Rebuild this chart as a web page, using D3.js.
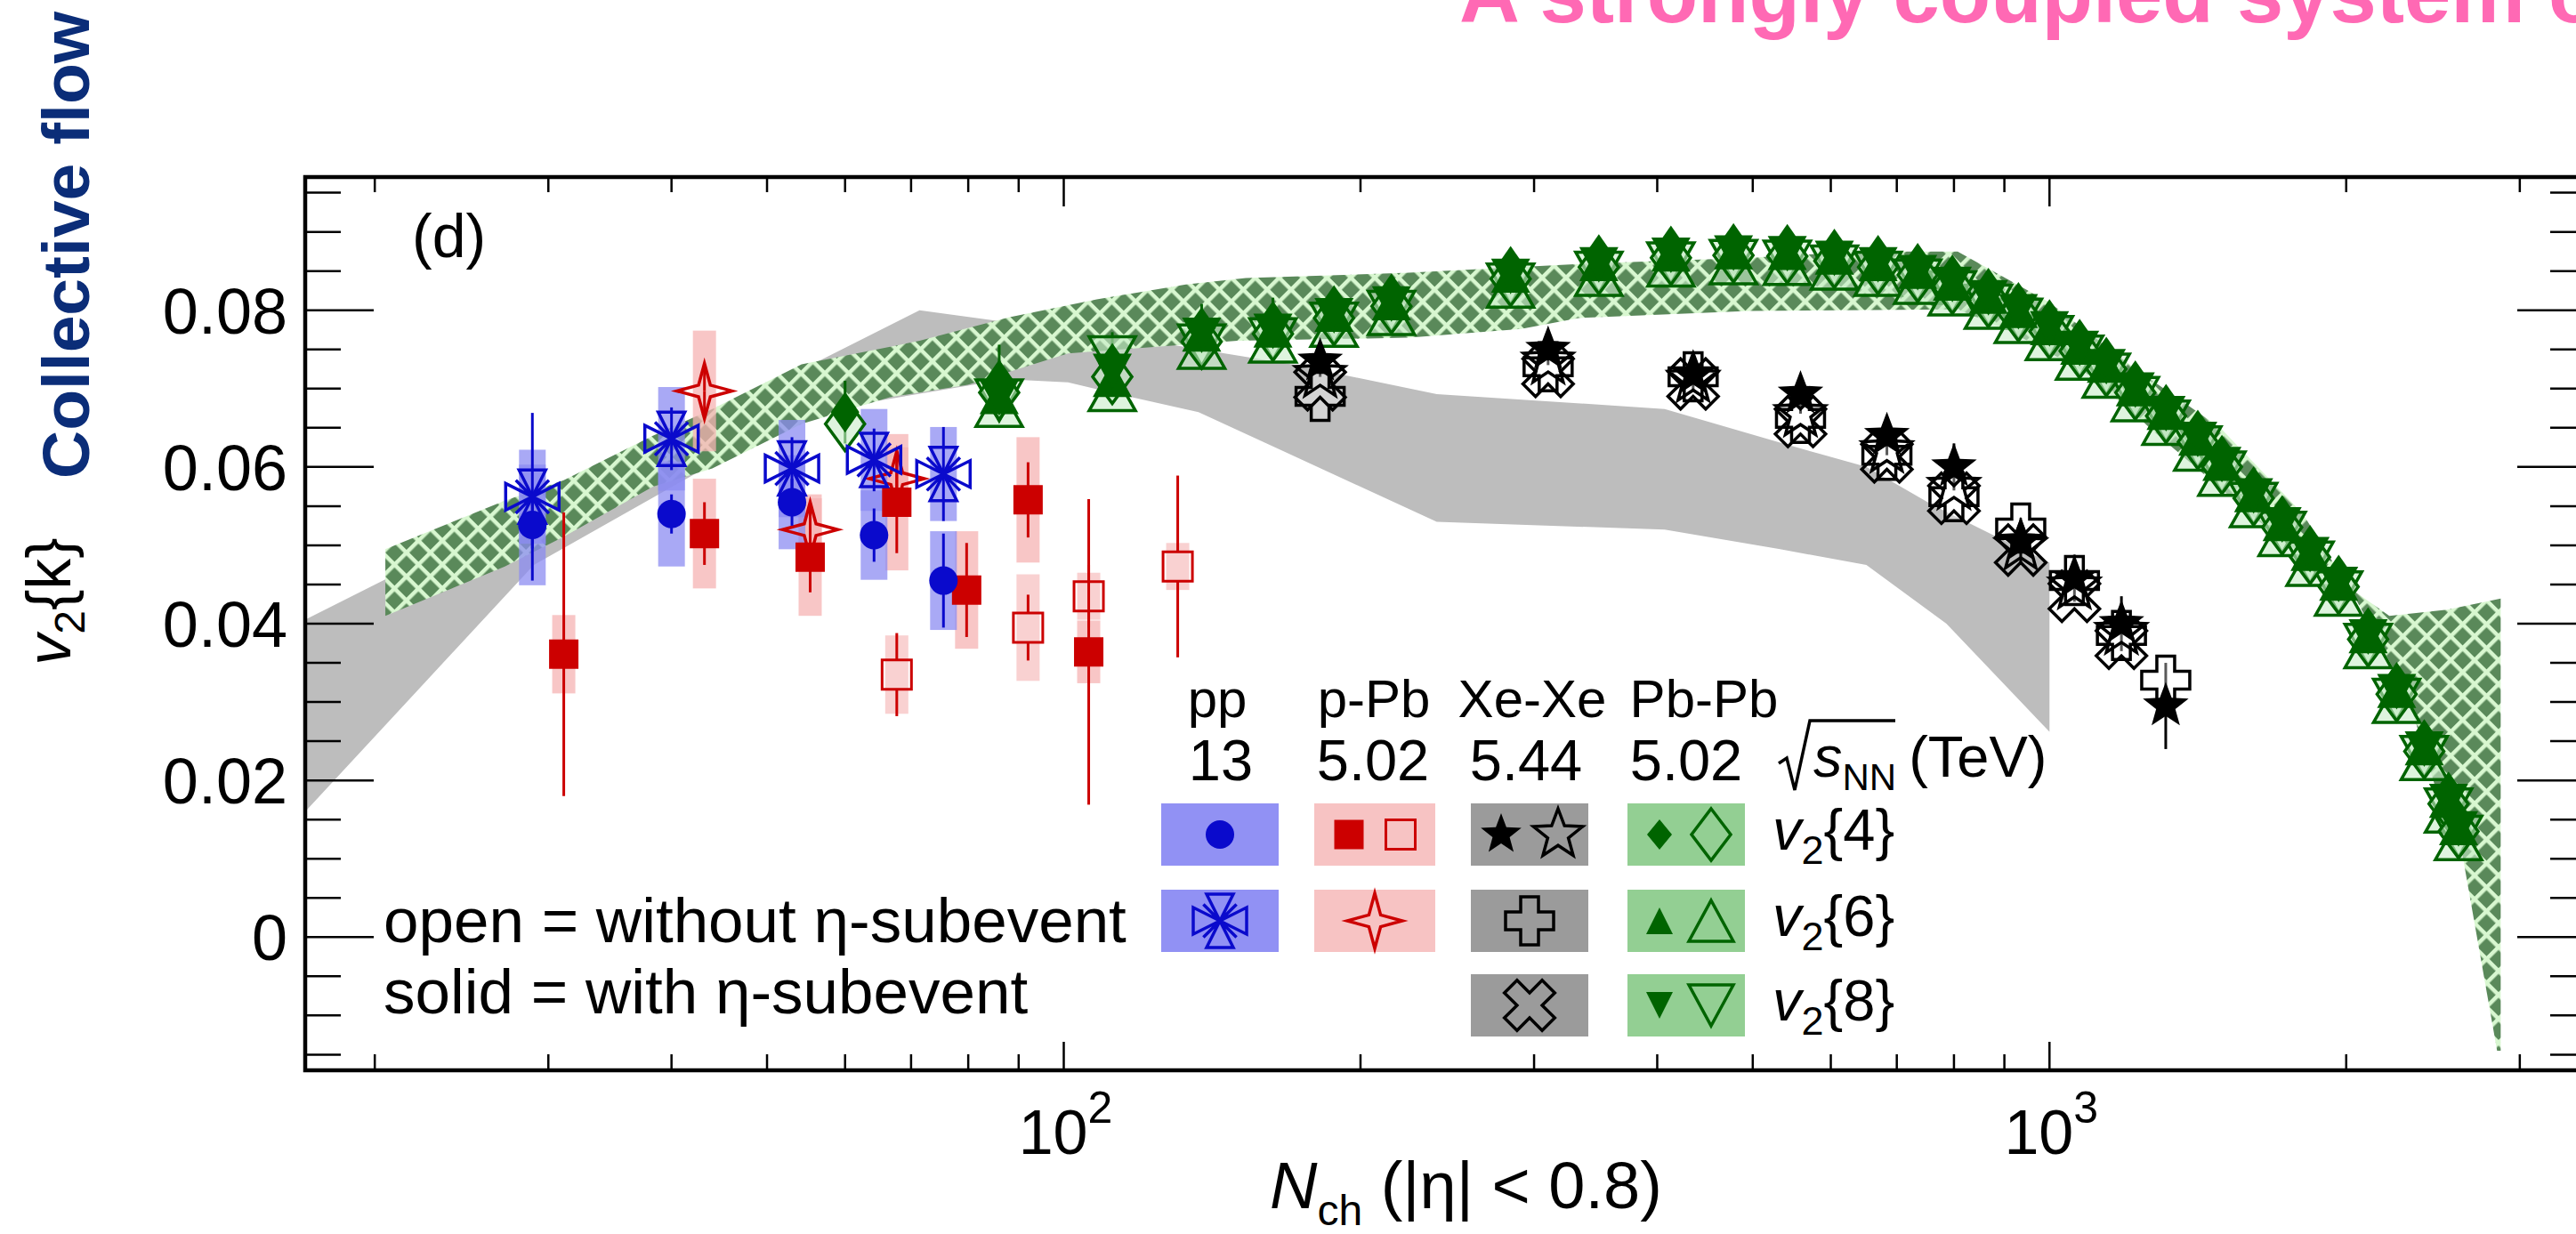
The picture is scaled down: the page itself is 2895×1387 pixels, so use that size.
<!DOCTYPE html>
<html>
<head>
<meta charset="utf-8">
<script src="https://cdn.jsdelivr.net/npm/d3@7"></script>
<style>
  html, body { margin: 0; padding: 0; background: #fff; }
  svg { display: block; font-family: 'Liberation Sans', Arial, Helvetica, sans-serif; }
</style>
</head>
<body>
<svg id="chart" width="2895" height="1387"></svg>
<script>
// axis ranges and ticks
const xDomain = [17, 3500]
const yDomain = [-0.017, 0.097]
const yMajor = [0, 0.02, 0.04, 0.06, 0.08]
const yLabels = ['0', '0.02', '0.04', '0.06', '0.08']
const xMajor = [100, 1000]
const xMajorSup = ['2', '3']
const xMinor = [20, 30, 40, 50, 60, 70, 80, 90, 200, 300, 400, 500, 600, 700, 800, 900, 2000, 3000]

// pp 13 TeV
const ppN = [28.9, 40.0, 53.0, 64.2, 75.5]
const ppV4 = [0.0526, 0.0540, 0.0555, 0.0513, 0.0455]
const ppV4Stat = [0.0030, 0.0025, 0.0030, 0.0034, 0.0060]
const ppV4Syst = [0.0077, 0.0067, 0.0060, 0.0057, 0.0063]
const ppV6 = [0.0562, 0.0636, 0.0598, 0.0609, 0.0591]
const ppV6Stat = [0.0107, 0.0040, 0.0040, 0.0040, 0.0060]
const ppV6Syst = [0.0060, 0.0066, 0.0062, 0.0065, 0.0060]

// p-Pb 5.02 TeV
const pPbN = [31.1, 43.2, 55.3, 67.7, 79.7, 92.0, 106]
const pPbV4 = [0.0361, 0.0515, 0.0485, 0.0555, 0.0443, 0.0558, 0.0364]
const pPbV4Stat = [0.0181, 0.0040, 0.0045, 0.0065, 0.0060, 0.0048, 0.0195]
const pPbV4Syst = [0.0050, 0.0070, 0.0075, 0.0087, 0.0075, 0.0080, 0.0040]
const pPbOpenN = [67.7, 92.0, 106, 130.5]
const pPbV4Open = [0.0335, 0.0395, 0.0435, 0.0473]
const pPbV4OpenStat = [0.0053, 0.0042, 0.0040, 0.0116]
const pPbV4OpenSyst = [0.0050, 0.0068, 0.0030, 0.0030]
const pPbV6N = [43.2, 55.3, 67.7]
const pPbV6 = [0.0697, 0.0520, 0.0585]
const pPbV6Stat = [0.0030, 0.0030, 0.0030]
const pPbV6Syst = [0.0077, 0.0045, 0.0040]

// Xe-Xe 5.44 TeV
const xeN = [182, 310, 435, 559, 684, 800, 935, 1060, 1183, 1312]
const xeV4 = [0.0735, 0.0750, 0.0718, 0.0693, 0.0640, 0.0600, 0.0505, 0.0458, 0.0400, 0.0295]
const xeV4Stat = [0.0020, 0.0020, 0.0020, 0.0025, 0.0025, 0.0030, 0.0030, 0.0030, 0.0035, 0.0055]
const xeV4Open = [0.0718, 0.0735, 0.0712, 0.0668, 0.0622, 0.0575, 0.0498, 0.0448, 0.0390, null]
const xeV6 = [0.0690, 0.0728, 0.0715, 0.0662, 0.0615, 0.0562, 0.0522, 0.0455, 0.0385, 0.0328]
const xeV8 = [0.0705, 0.0722, 0.0706, 0.0658, 0.0613, 0.0560, 0.0494, 0.0435, 0.0375, null]

// Pb-Pb 5.02 TeV
const pbN = [60, 86, 112, 138, 163, 188, 215, 284, 349, 413, 478, 542, 605, 670, 735, 797, 867, 930, 1000, 1073, 1142, 1222, 1313, 1414, 1496, 1611, 1722, 1838, 1965, 2105, 2250, 2400, 2540, 2600]
const pbV4 = [0.0670, 0.0711, 0.0732, 0.0778, 0.0786, 0.0806, 0.0821, 0.0856, 0.0871, 0.0882, 0.0885, 0.0884, 0.0878, 0.0870, 0.0860, 0.0845, 0.0828, 0.0810, 0.0788, 0.0763, 0.0740, 0.0710, 0.0680, 0.0647, 0.0615, 0.0575, 0.0538, 0.0500, 0.0462, 0.0395, 0.0325, 0.0252, 0.0185, 0.0150]
const pbV4Stat = [0.0040, 0.0045, 0.0040, 0.0030, 0.0030, 0.0020, 0.0020, 0.0015, 0.0010, 0.0010, 0.0010, 0.0010, 0.0010, 0.0010, 0.0010, 0.0010, 0.0010, 0.0010, 0.0010, 0.0010, 0.0010, 0.0010, 0.0010, 0.0010, 0.0010, 0.0010, 0.0010, 0.0010, 0.0010, 0.0010, 0.0010, 0.0010, 0.0015, 0.0015]
const pbV4Open = [0.0655, 0.0695, 0.0715, 0.0760, 0.0770, 0.0790, 0.0805, 0.0840, 0.0855, 0.0867, 0.0870, 0.0869, 0.0863, 0.0855, 0.0845, 0.0830, 0.0813, 0.0795, 0.0773, 0.0748, 0.0725, 0.0695, 0.0665, 0.0632, 0.0600, 0.0560, 0.0523, 0.0485, 0.0447, 0.0380, 0.0310, 0.0237, 0.0170, 0.0135]
const pbV6 = [null, 0.0690, 0.0712, 0.0770, 0.0775, 0.0795, 0.0810, 0.0845, 0.0860, 0.0872, 0.0875, 0.0874, 0.0868, 0.0860, 0.0850, 0.0835, 0.0818, 0.0800, 0.0778, 0.0753, 0.0730, 0.0700, 0.0670, 0.0637, 0.0605, 0.0565, 0.0528, 0.0490, 0.0452, 0.0385, 0.0315, 0.0242, 0.0175, 0.0140]
const pbV6Open = [null, 0.0678, 0.0698, 0.0752, 0.0760, 0.0780, 0.0795, 0.0830, 0.0845, 0.0857, 0.0860, 0.0859, 0.0853, 0.0845, 0.0835, 0.0820, 0.0803, 0.0785, 0.0763, 0.0738, 0.0715, 0.0685, 0.0655, 0.0622, 0.0590, 0.0550, 0.0513, 0.0475, 0.0437, 0.0370, 0.0300, 0.0227, 0.0160, 0.0125]
const pbV8 = [null, 0.0688, 0.0722, 0.0768, 0.0773, 0.0793, 0.0808, 0.0843, 0.0858, 0.0870, 0.0873, 0.0872, 0.0866, 0.0858, 0.0848, 0.0833, 0.0816, 0.0798, 0.0776, 0.0751, 0.0728, 0.0698, 0.0668, 0.0635, 0.0603, 0.0563, 0.0526, 0.0488, 0.0450, 0.0383, 0.0313, 0.0240, 0.0173, 0.0138]
const pbV8Open = [null, 0.0685, 0.0740, 0.0755, 0.0763, 0.0783, 0.0798, 0.0833, 0.0848, 0.0860, 0.0863, 0.0862, 0.0856, 0.0848, 0.0838, 0.0823, 0.0806, 0.0788, 0.0766, 0.0741, 0.0718, 0.0688, 0.0658, 0.0625, 0.0593, 0.0553, 0.0516, 0.0478, 0.0440, 0.0373, 0.0303, 0.0230, 0.0163, 0.0128]

// grey band
const greyUpN = [17, 71.4, 87.4, 123, 172, 239, 407, 533, 652, 760, 877, 1000]
const greyUpV = [0.0405, 0.0800, 0.0785, 0.0760, 0.0730, 0.0693, 0.0674, 0.0631, 0.0600, 0.0552, 0.0513, 0.0478]
const greyLoN = [17, 29, 54.2, 87.4, 101, 110, 137, 239, 407, 533, 652, 786, 1000]
const greyLoV = [0.0160, 0.0475, 0.0668, 0.0712, 0.0708, 0.0697, 0.0670, 0.0530, 0.0520, 0.0495, 0.0475, 0.0400, 0.0262]

// green hatched band
const greenUpN = [20.5, 27.1, 31.1, 38.3, 44, 54.2, 71.4, 87.9, 108, 133, 153, 224, 333, 496, 646, 807, 1000, 1223, 1490, 1808, 2048, 2306, 2506, 2607, 2845, 2869]
const greenUpV = [0.0495, 0.0557, 0.0583, 0.0640, 0.0674, 0.0731, 0.0761, 0.0791, 0.0814, 0.0833, 0.0841, 0.0848, 0.0859, 0.0867, 0.0875, 0.0875, 0.0810, 0.0725, 0.0650, 0.0540, 0.0430, 0.0310, 0.0160, 0.0125, -0.0145, -0.0145]
const greenLoN = [20.5, 27.1, 31.1, 38.3, 44, 54.2, 66.6, 79.9, 101, 150, 224, 291, 333, 496, 807, 909, 1084, 1324, 1706, 2212, 2532, 2869]
const greenLoV = [0.0410, 0.0473, 0.0511, 0.0575, 0.0598, 0.0655, 0.0689, 0.0705, 0.0745, 0.0761, 0.0765, 0.0776, 0.0790, 0.0799, 0.0801, 0.0774, 0.0722, 0.0628, 0.0510, 0.0410, 0.0418, 0.0432]

// legend text
const legSystems = ['pp', 'p-Pb', 'Xe-Xe', 'Pb-Pb']
const legEnergies = ['13', '5.02', '5.44', '5.02']
const legOrders = ['4', '6', '8']

const svg = d3.select('#chart')
svg.append('rect').attr('width', 2895).attr('height', 1387).attr('fill', '#fff')

const x = d3.scaleLog().domain(xDomain).range([343, 2906])
const y = d3.scaleLinear().domain(yDomain).range([1203, 199])

const blue = '#0a0acc', red = '#cc0000', green = '#006400', black = '#000'
const lightGreen = 'rgba(200,236,200,0.6)'

// hatch pattern for the green band
const defs = svg.append('defs')
const pat = defs.append('pattern').attr('id', 'hatch')
  .attr('patternUnits', 'userSpaceOnUse')
  .attr('width', 19).attr('height', 19)
  .attr('patternTransform', 'rotate(45)')
pat.append('rect').attr('width', 19).attr('height', 19).attr('fill', '#5a895a')
pat.append('rect').attr('width', 19).attr('height', 4.5).attr('fill', '#d8f7d0')
pat.append('rect').attr('width', 4.5).attr('height', 19).attr('fill', '#d8f7d0')

// marker shapes
const poly = pts => 'M' + pts.map(p => p[0].toFixed(1) + ',' + p[1].toFixed(1)).join('L') + 'Z'
const rot45 = pts => pts.map(p => [(p[0] - p[1]) * Math.SQRT1_2, (p[0] + p[1]) * Math.SQRT1_2])
const starPts = (n, R, r) => d3.range(2 * n).map(i => {
  const a = -Math.PI / 2 + i * Math.PI / n
  const rr = i % 2 ? r : R
  return [rr * Math.cos(a), rr * Math.sin(a)]
})
const crossPts = (R, a) => [[-a, -R], [a, -R], [a, -a], [R, -a], [R, a], [a, a], [a, R], [-a, R], [-a, a], [-R, a], [-R, -a], [-a, -a]]
const shape = {
  circle: r => `M${r},0A${r},${r},0,1,1,${-r},0A${r},${r},0,1,1,${r},0Z`,
  square: s => `M${-s / 2},${-s / 2}h${s}v${s}h${-s}Z`,
  diamond: (w, h) => `M0,${-h / 2}L${w / 2},0L0,${h / 2}L${-w / 2},0Z`,
  triUp: (w, h) => `M0,${-h / 2}L${w / 2},${h / 2}L${-w / 2},${h / 2}Z`,
  triDown: (w, h) => `M0,${h / 2}L${w / 2},${-h / 2}L${-w / 2},${-h / 2}Z`,
  star5: R => poly(starPts(5, R, R * 0.42)),
  star4: R => poly(starPts(4, R, R * 0.3)),
  cross: (R, a) => poly(crossPts(R, a)),
  xcross: (R, a) => poly(rot45(crossPts(R, a))),
  asterisk: (R, a) => {
    const tris = [
      [[0, 0], [-a, -R], [a, -R]], [[0, 0], [-a, R], [a, R]],
      [[0, 0], [-R, -a], [-R, a]], [[0, 0], [R, -a], [R, a]]
    ]
    const k = R * 0.62
    return tris.map(poly).join('') + `M${-k},${-k}L${k},${k}M${k},${-k}L${-k},${k}`
  }
}

const mk = {
  ppV4: { d: shape.circle(16), fill: blue, stroke: 'none', sw: 0 },
  ppV6: { d: shape.asterisk(30, 15), fill: 'none', stroke: blue, sw: 3.5 },
  pPbV4: { d: shape.square(33), fill: red, stroke: 'none', sw: 0 },
  pPbV4Open: { d: shape.square(33), fill: 'none', stroke: red, sw: 3 },
  pPbV6: { d: shape.star4(31), fill: 'none', stroke: red, sw: 3.5 },
  xeV4: { d: shape.star5(27), fill: black, stroke: 'none', sw: 0 },
  xeV4Open: { d: shape.star5(29), fill: 'none', stroke: black, sw: 3.5 },
  xeV6: { d: shape.cross(27, 10), fill: 'rgba(255,255,255,0.35)', stroke: black, sw: 3.5 },
  xeV8: { d: shape.xcross(30, 10), fill: 'none', stroke: black, sw: 3.5 },
  pbV4: { d: shape.diamond(32, 46), fill: green, stroke: 'none', sw: 0 },
  pbV4Open: { d: shape.diamond(44, 60), fill: lightGreen, stroke: green, sw: 3.5 },
  pbV6: { d: shape.triUp(44, 40), fill: green, stroke: 'none', sw: 0 },
  pbV6Open: { d: shape.triUp(52, 46), fill: lightGreen, stroke: green, sw: 3.5 },
  pbV8: { d: shape.triDown(44, 40), fill: green, stroke: 'none', sw: 0 },
  pbV8Open: { d: shape.triDown(52, 46), fill: lightGreen, stroke: green, sw: 3.5 }
}
// smaller solid symbols in the legend
const mkLeg = Object.assign({}, mk, {
  pbV4: { d: shape.diamond(28, 34), fill: green, stroke: 'none', sw: 0 },
  pbV4Open: { d: shape.diamond(44, 58), fill: 'none', stroke: green, sw: 3.5 },
  pbV6: { d: shape.triUp(30, 30), fill: green, stroke: 'none', sw: 0 },
  pbV6Open: { d: shape.triUp(50, 46), fill: 'none', stroke: green, sw: 3.5 },
  pbV8: { d: shape.triDown(30, 30), fill: green, stroke: 'none', sw: 0 },
  pbV8Open: { d: shape.triDown(50, 46), fill: 'none', stroke: green, sw: 3.5 },
  xeV4: { d: shape.star5(24), fill: black, stroke: 'none', sw: 0 },
  xeV6: { d: shape.cross(27, 10), fill: 'none', stroke: black, sw: 3.5 }
})

function drawMarkers (g, N, V, m) {
  g.selectAll(null)
    .data(d3.zip(N, V).filter(p => p[1] != null))
    .join('path')
    .attr('transform', p => `translate(${x(p[0])},${y(p[1])})`)
    .attr('d', m.d)
    .attr('fill', m.fill)
    .attr('stroke', m.stroke)
    .attr('stroke-width', m.sw)
}

// vertical stat error bars, with a gap where an open marker sits
function drawErrors (g, N, V, E, color, gap) {
  d3.zip(N, V, E).filter(p => p[1] != null).forEach(p => {
    const cx = x(p[0]), cy = y(p[1])
    const top = y(p[1] + p[2]), bot = y(p[1] - p[2])
    if (cy - gap > top) g.append('line').attr('x1', cx).attr('x2', cx).attr('y1', top).attr('y2', cy - gap)
      .attr('stroke', color).attr('stroke-width', 3)
    if (cy + gap < bot) g.append('line').attr('x1', cx).attr('x2', cx).attr('y1', cy + gap).attr('y2', bot)
      .attr('stroke', color).attr('stroke-width', 3)
  })
}

function drawBoxes (g, N, V, S, w, color, op) {
  g.selectAll(null)
    .data(d3.zip(N, V, S))
    .join('rect')
    .attr('x', p => x(p[0]) - w / 2)
    .attr('width', w)
    .attr('y', p => y(p[1] + p[2]))
    .attr('height', p => y(p[1] - p[2]) - y(p[1] + p[2]))
    .attr('fill', color)
    .attr('opacity', op)
}

// bands
const band = (upN, upV, loN, loV) => {
  const pts = d3.zip(upN, upV).concat(d3.zip(loN, loV).reverse())
  return d3.line().x(p => x(p[0])).y(p => y(p[1]))(pts) + 'Z'
}
const gBands = svg.append('g')
gBands.append('path').attr('d', band(greyUpN, greyUpV, greyLoN, greyLoV)).attr('fill', '#bdbdbd')
gBands.append('path').attr('d', band(greenUpN, greenUpV, greenLoN, greenLoV)).attr('fill', 'url(#hatch)')

// systematic boxes
const gBox = svg.append('g')
drawBoxes(gBox, pPbN, pPbV4, pPbV4Syst, 26, '#f5b3b3', 0.75)
drawBoxes(gBox, pPbOpenN, pPbV4Open, pPbV4OpenSyst, 26, '#f5b3b3', 0.6)
drawBoxes(gBox, pPbV6N, pPbV6, pPbV6Syst, 26, '#f5b3b3', 0.75)
drawBoxes(gBox, ppN, ppV4, ppV4Syst, 30, '#8c8cf2', 0.75)
drawBoxes(gBox, ppN, ppV6, ppV6Syst, 30, '#8c8cf2', 0.75)

// Pb-Pb
const gPb = svg.append('g')
drawErrors(gPb, pbN, pbV4, pbV4Stat, green, 0)
drawMarkers(gPb, pbN, pbV6Open, mk.pbV6Open)
drawMarkers(gPb, pbN, pbV8Open, mk.pbV8Open)
drawMarkers(gPb, pbN, pbV4Open, mk.pbV4Open)
drawMarkers(gPb, pbN, pbV6, mk.pbV6)
drawMarkers(gPb, pbN, pbV8, mk.pbV8)
drawMarkers(gPb, pbN, pbV4, mk.pbV4)

// Xe-Xe
const gXe = svg.append('g')
drawErrors(gXe, xeN, xeV4, xeV4Stat, black, 0)
drawMarkers(gXe, xeN, xeV6, mk.xeV6)
drawMarkers(gXe, xeN, xeV8, mk.xeV8)
drawMarkers(gXe, xeN, xeV4Open, mk.xeV4Open)
drawMarkers(gXe, xeN, xeV4, mk.xeV4)

// p-Pb
const gPPb = svg.append('g')
drawErrors(gPPb, pPbN, pPbV4, pPbV4Stat, red, 0)
drawErrors(gPPb, pPbOpenN, pPbV4Open, pPbV4OpenStat, red, 17)
drawErrors(gPPb, pPbV6N, pPbV6, pPbV6Stat, red, 0)
drawMarkers(gPPb, pPbOpenN, pPbV4Open, mk.pPbV4Open)
drawMarkers(gPPb, pPbV6N, pPbV6, mk.pPbV6)
drawMarkers(gPPb, pPbN, pPbV4, mk.pPbV4)

// pp
const gPP = svg.append('g')
drawErrors(gPP, ppN, ppV6, ppV6Stat, blue, 0)
drawErrors(gPP, ppN, ppV4, ppV4Stat, blue, 0)
drawMarkers(gPP, ppN, ppV6, mk.ppV6)
drawMarkers(gPP, ppN, ppV4, mk.ppV4)

// frame and ticks
const gAx = svg.append('g').attr('stroke', '#000')
const yMinor = d3.range(-0.015, 0.0951, 0.005).filter(v => !yMajor.some(m => Math.abs(m - v) < 1e-6))
yMinor.forEach(v => {
  gAx.append('line').attr('x1', 343).attr('x2', 383).attr('y1', y(v)).attr('y2', y(v)).attr('stroke-width', 2.5)
  gAx.append('line').attr('x1', 2866).attr('x2', 2906).attr('y1', y(v)).attr('y2', y(v)).attr('stroke-width', 2.5)
})
yMajor.forEach(v => {
  gAx.append('line').attr('x1', 343).attr('x2', 420).attr('y1', y(v)).attr('y2', y(v)).attr('stroke-width', 2.5)
  gAx.append('line').attr('x1', 2829).attr('x2', 2906).attr('y1', y(v)).attr('y2', y(v)).attr('stroke-width', 2.5)
})
xMinor.forEach(n => {
  gAx.append('line').attr('x1', x(n)).attr('x2', x(n)).attr('y1', 1203).attr('y2', 1185).attr('stroke-width', 2.5)
  gAx.append('line').attr('x1', x(n)).attr('x2', x(n)).attr('y1', 199).attr('y2', 216).attr('stroke-width', 2.5)
})
xMajor.forEach(n => {
  gAx.append('line').attr('x1', x(n)).attr('x2', x(n)).attr('y1', 1203).attr('y2', 1171).attr('stroke-width', 2.5)
  gAx.append('line').attr('x1', x(n)).attr('x2', x(n)).attr('y1', 199).attr('y2', 232).attr('stroke-width', 2.5)
})
gAx.append('rect').attr('x', 343).attr('y', 199).attr('width', 2906 - 343).attr('height', 1203 - 199)
  .attr('fill', 'none').attr('stroke-width', 4.5)

// tick labels
const gLab = svg.append('g').attr('fill', '#000')
yMajor.forEach((v, i) => {
  gLab.append('text').attr('x', 323).attr('y', y(v)).attr('dy', '0.36em')
    .attr('text-anchor', 'end').attr('font-size', 72).text(yLabels[i])
})
xMajor.forEach((n, i) => {
  const t = gLab.append('text').attr('x', x(n) + 2).attr('y', 1297).attr('text-anchor', 'middle').attr('font-size', 70)
  t.append('tspan').text('10')
  t.append('tspan').attr('font-size', 50).attr('dy', -35).text(xMajorSup[i])
})

// axis titles
const xt = gLab.append('text').attr('x', 1427).attr('y', 1358).attr('font-size', 74)
xt.append('tspan').attr('font-style', 'italic').text('N')
xt.append('tspan').attr('font-size', 48).attr('dy', 19).text('ch')
xt.append('tspan').attr('dy', -19).text(' (|η| < 0.8)')

const yt = gLab.append('text').attr('transform', 'translate(79,676) rotate(-90)')
  .attr('text-anchor', 'middle').attr('font-size', 70)
yt.append('tspan').attr('font-style', 'italic').text('v')
yt.append('tspan').attr('font-size', 48).attr('dy', 16).text('2')
yt.append('tspan').attr('dy', -16).text('{k}')

svg.append('text').attr('transform', 'translate(100,538) rotate(-90)')
  .attr('font-size', 75).attr('font-weight', 'bold').attr('fill', '#0b2d78')
  .text('Collective flow')

svg.append('text').attr('x', 1640).attr('y', 25)
  .attr('font-size', 94).attr('font-weight', 'bold').attr('fill', '#ff69b4')
  .text('A strongly coupled system o')

// panel label and notes
gLab.append('text').attr('x', 463).attr('y', 289).attr('font-size', 68).text('(d)')
gLab.append('text').attr('x', 431).attr('y', 1059).attr('font-size', 71).text('open = without η-subevent')
gLab.append('text').attr('x', 431).attr('y', 1139).attr('font-size', 71).text('solid = with η-subevent')

// legend
const headX = [1368, 1544, 1722, 1915]
const energyX = [1372, 1543, 1715, 1895]
const colX = [1305, 1477, 1653, 1829]
const colW = [132, 136, 132, 132]
const rowY = [903, 1000, 1095]
const rowH = 70
const boxCol = ['#9191f4', '#f7c3c3', '#9b9b9b', '#93cf93']

const gLeg = svg.append('g')
legSystems.forEach((s, i) => {
  gLeg.append('text').attr('x', headX[i]).attr('y', 806).attr('text-anchor', 'middle')
    .attr('font-size', 60).text(s)
  gLeg.append('text').attr('x', energyX[i]).attr('y', 877).attr('text-anchor', 'middle')
    .attr('font-size', 65).text(legEnergies[i])
})
// sqrt(s_NN) (TeV)
gLeg.append('path').attr('d', 'M1999,858L2008,852L2017,888L2034,810L2130,810')
  .attr('fill', 'none').attr('stroke', '#000').attr('stroke-width', 3.5)
const sq = gLeg.append('text').attr('x', 2038).attr('y', 873).attr('font-size', 65)
sq.append('tspan').attr('font-style', 'italic').text('s')
sq.append('tspan').attr('font-size', 42).attr('dy', 15).text('NN')
sq.append('tspan').attr('dy', -15).attr('dx', 14).text('(TeV)')

const legEntries = [
  { c: 0, r: 0, m: [[0, 'ppV4']] },
  { c: 1, r: 0, m: [[-29, 'pPbV4'], [29, 'pPbV4Open']] },
  { c: 2, r: 0, m: [[-32, 'xeV4'], [32, 'xeV4Open']] },
  { c: 3, r: 0, m: [[-30, 'pbV4'], [28, 'pbV4Open']] },
  { c: 0, r: 1, m: [[0, 'ppV6']] },
  { c: 1, r: 1, m: [[0, 'pPbV6']] },
  { c: 2, r: 1, m: [[0, 'xeV6']] },
  { c: 3, r: 1, m: [[-30, 'pbV6'], [28, 'pbV6Open']] },
  { c: 2, r: 2, m: [[0, 'xeV8']] },
  { c: 3, r: 2, m: [[-30, 'pbV8'], [28, 'pbV8Open']] }
]
legEntries.forEach(e => {
  gLeg.append('rect').attr('x', colX[e.c]).attr('y', rowY[e.r]).attr('width', colW[e.c]).attr('height', rowH)
    .attr('fill', boxCol[e.c])
  const cx = colX[e.c] + colW[e.c] / 2
  const cy = rowY[e.r] + rowH / 2
  e.m.forEach(([dx, key]) => {
    const m = mkLeg[key]
    gLeg.append('path').attr('transform', `translate(${cx + dx},${cy})`)
      .attr('d', m.d).attr('fill', m.fill).attr('stroke', m.stroke).attr('stroke-width', m.sw)
  })
})
legOrders.forEach((k, i) => {
  const t = gLeg.append('text').attr('x', 1992).attr('y', rowY[i] + 52).attr('font-size', 65)
  t.append('tspan').attr('font-style', 'italic').text('v')
  t.append('tspan').attr('font-size', 45).attr('dy', 16).text('2')
  t.append('tspan').attr('dy', -16).text('{' + k + '}')
})
</script>
</body>
</html>
